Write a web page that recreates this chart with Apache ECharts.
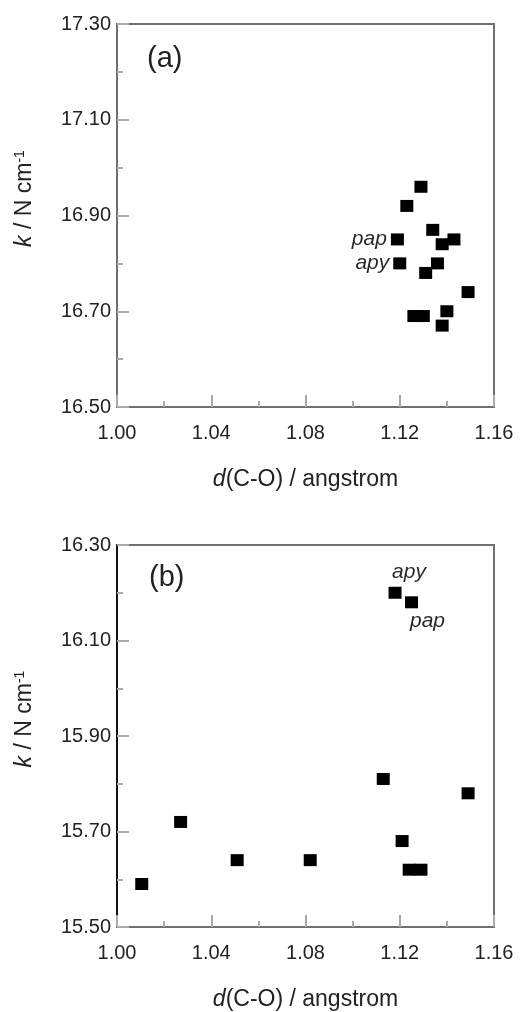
<!DOCTYPE html>
<html>
<head>
<meta charset="utf-8">
<script src="https://cdn.jsdelivr.net/npm/echarts@6/dist/echarts.min.js"></script>
<style>
  html, body { margin: 0; padding: 0; background: #fff; }
  #main { width: 531px; height: 1012px; }
</style>
</head>
<body>
<div id="main"></div>
<script>
// panel (a)
var aX = [1.129, 1.123, 1.119, 1.120, 1.134, 1.138, 1.143, 1.136, 1.131, 1.149, 1.126, 1.130, 1.140, 1.138];
var aY = [16.96, 16.92, 16.85, 16.80, 16.87, 16.84, 16.85, 16.80, 16.78, 16.74, 16.69, 16.69, 16.70, 16.67];
var aTags = ['', '', 'pap', 'apy', '', '', '', '', '', '', '', '', '', ''];
// panel (b)
var bX = [1.118, 1.125, 1.113, 1.149, 1.027, 1.121, 1.051, 1.082, 1.124, 1.129, 1.0105];
var bY = [16.20, 16.18, 15.81, 15.78, 15.72, 15.68, 15.64, 15.64, 15.62, 15.62, 15.59];
var bTags = ['apy', 'pap', '', '', '', '', '', '', '', '', ''];

var xTicks = { min: 1.00, max: 1.16, interval: 0.04 };
var aTicks = { min: 16.50, max: 17.30, interval: 0.20 };
var bTicks = { min: 15.50, max: 16.30, interval: 0.20 };

var font = 'Liberation Sans, Arial, sans-serif';
var frameColor = '#707070';

// label placement for the tagged points
var tagPos = {
  a: { pap: { position: 'left', distance: 4 }, apy: { position: 'left', distance: 4 } },
  b: { apy: { position: 'top', distance: 4, offset: [14, 0] }, pap: { position: 'bottom', distance: 2, offset: [16, 0] } }
};

function buildData(xs, ys, tags, panel) {
  var out = [];
  for (var i = 0; i < xs.length; i++) {
    var item = { value: [xs[i], ys[i]] };
    if (tags[i]) {
      var p = tagPos[panel][tags[i]];
      item.label = {
        show: true,
        formatter: tags[i],
        position: p.position,
        distance: p.distance,
        offset: p.offset || [0, 0],
        fontFamily: font,
        fontStyle: 'italic',
        fontSize: 21,
        color: '#2a2a2a'
      };
    }
    out.push(item);
  }
  return out;
}

function xAxisOf(gridIndex) {
  return {
    type: 'value', gridIndex: gridIndex,
    min: xTicks.min, max: xTicks.max, interval: xTicks.interval,
    name: '{i|d}(C-O) / angstrom',
    nameLocation: 'middle', nameGap: 61,
    nameTextStyle: {
      fontFamily: font, fontSize: 23, color: '#222',
      rich: { i: { fontFamily: font, fontSize: 23, fontStyle: 'italic', color: '#222' } }
    },
    axisLine: { show: true, onZero: false, lineStyle: { color: frameColor, width: 2 } },
    axisTick: { show: true, inside: true, length: 12, lineStyle: { color: '#aaa', width: 2 } },
    minorTick: { show: true, splitNumber: 2, length: 6, lineStyle: { color: '#aaa', width: 2 } },
    axisLabel: {
      margin: 16, fontFamily: font, fontSize: 20, color: '#222',
      formatter: function (v) { return v.toFixed(2); }
    },
    splitLine: { show: false }
  };
}

function yAxisOf(gridIndex, t, lineColor) {
  return {
    type: 'value', gridIndex: gridIndex,
    min: t.min, max: t.max, interval: t.interval,
    name: '{i|k} / N cm{s|-1}',
    nameLocation: 'middle', nameGap: 80, nameRotate: 90,
    nameTextStyle: {
      fontFamily: font, fontSize: 23, color: '#222',
      padding: [0, 0, 0, 34],
      rich: {
        i: { fontFamily: font, fontSize: 23, fontStyle: 'italic', color: '#222' },
        s: { fontFamily: font, fontSize: 14, color: '#222', verticalAlign: 'top', padding: [0, 0, 10, 0] }
      }
    },
    axisLine: { show: true, onZero: false, lineStyle: { color: lineColor, width: 2 } },
    axisTick: { show: true, inside: true, length: 12, lineStyle: { color: '#aaa', width: 2 } },
    minorTick: { show: true, splitNumber: 2, length: 6, lineStyle: { color: '#aaa', width: 2 } },
    axisLabel: {
      margin: 6, fontFamily: font, fontSize: 20, color: '#222',
      formatter: function (v) { return v.toFixed(2); }
    },
    splitLine: { show: false }
  };
}

var myChart = echarts.init(document.getElementById('main'), null, { renderer: 'canvas' });

var option = {
  backgroundColor: '#fff',
  animation: false,
  grid: [
    { left: 117, top: 24, width: 377, height: 383, show: true, borderColor: frameColor, borderWidth: 2, backgroundColor: 'transparent' },
    { left: 117, top: 545, width: 377, height: 383, show: true, borderColor: frameColor, borderWidth: 2, backgroundColor: 'transparent' }
  ],
  xAxis: [xAxisOf(0), xAxisOf(1)],
  yAxis: [yAxisOf(0, aTicks, frameColor), yAxisOf(1, bTicks, '#111')],
  graphic: [
    { type: 'text', left: 147, top: 44, style: { text: '(a)', fontFamily: font, fontSize: 29, fill: '#222' } },
    { type: 'text', left: 149, top: 563, style: { text: '(b)', fontFamily: font, fontSize: 29, fill: '#222' } }
  ],
  series: [
    {
      type: 'scatter', xAxisIndex: 0, yAxisIndex: 0,
      symbol: 'rect', symbolSize: [13, 12],
      itemStyle: { color: '#000', opacity: 1 },
      data: buildData(aX, aY, aTags, 'a')
    },
    {
      type: 'scatter', xAxisIndex: 1, yAxisIndex: 1,
      symbol: 'rect', symbolSize: [13, 12],
      itemStyle: { color: '#000', opacity: 1 },
      data: buildData(bX, bY, bTags, 'b')
    }
  ]
};

myChart.setOption(option);
</script>
</body>
</html>
